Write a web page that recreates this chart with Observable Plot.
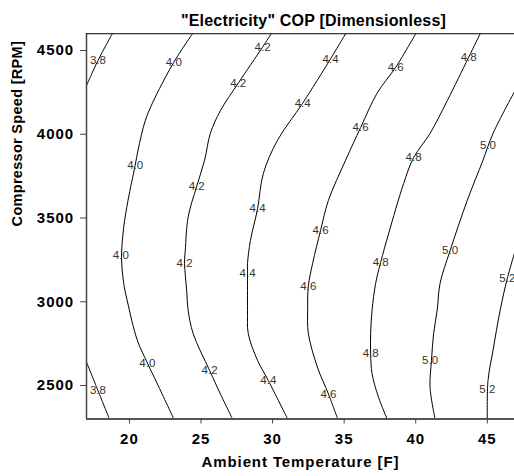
<!DOCTYPE html>
<html>
<head>
<meta charset="utf-8">
<script src="https://cdn.jsdelivr.net/npm/d3@7"></script>
<script src="https://cdn.jsdelivr.net/npm/@observablehq/plot@0.6"></script>
<style>
  body { margin: 0; background: #fff; font-family: "Liberation Sans", Arial, sans-serif; }
  #title { box-sizing: border-box; width: 514px; height: 29px; padding-top: 13px; padding-left: 113px;
           text-align: center; font-weight: bold; font-size: 16px; line-height: 16px; letter-spacing: 0.2px; color: #000; }
  g[aria-label="x-axis tick label"] text, g[aria-label="y-axis tick label"] text { letter-spacing: 1px; }
  .xl { letter-spacing: 0.9px; }
  .yl { letter-spacing: 0.3px; }
</style>
</head>
<body>
<div id="title">"Electricity" COP [Dimensionless]</div>
<div id="chart"></div>
<script>
// Contour lines: [Ambient Temperature (F), Compressor Speed (RPM)]
const c38a = [[18.8,4600],[17.8,4440],[17.0,4290]];
const c38b = [[17.0,2640],[17.8,2470],[18.6,2300]];
const c40 = [[24.4,4600],[23.1,4430],[21.6,4185],[21.1,4080],[20.6,3905],[20.4,3815],[19.9,3605],[19.6,3445],[19.45,3265],[19.6,3110],[19.85,3005],[20.55,2770],[21.25,2635],[21.95,2510],[23.1,2300]];
const c42 = [[29.9,4600],[29.3,4520],[27.6,4305],[26.35,4140],[25.65,4005],[25.25,3845],[24.7,3690],[24.1,3505],[23.9,3305],[23.85,3230],[24.0,3065],[24.1,2950],[24.45,2810],[25.6,2590],[26.35,2450],[27.2,2300]];
const c44 = [[35.1,4600],[34.05,4450],[32.1,4185],[30.35,3965],[29.35,3765],[28.95,3555],[28.45,3365],[28.25,3230],[28.25,3170],[28.25,2950],[28.3,2810],[28.95,2650],[29.7,2530],[31.05,2300]];
const c46 = [[40.0,4600],[38.6,4400],[37.3,4245],[36.15,4040],[35.1,3845],[33.9,3605],[33.35,3425],[32.8,3230],[32.5,3095],[32.45,2950],[32.5,2810],[33.15,2605],[33.9,2450],[34.55,2300]];
const c48 = [[44.5,4600],[43.7,4460],[42.2,4200],[41.0,4005],[39.85,3860],[39.15,3705],[38.1,3405],[37.55,3235],[37.2,3110],[36.95,2950],[36.85,2810],[36.85,2690],[36.95,2570],[37.4,2430],[38.0,2300]];
const c50 = [[47.0,4270],[45.4,4005],[44.7,3845],[43.6,3605],[42.4,3305],[41.7,3110],[41.5,2950],[41.25,2810],[41.1,2650],[41.0,2490],[41.35,2300]];
const c52 = [[47.0,3320],[46.4,3140],[45.9,2950],[45.4,2710],[45.05,2530],[45.0,2300]];

const contourLines = [c38a, c38b, c40, c42, c44, c46, c48, c50, c52];

// Contour labels
const labelText = ["3.8","3.8","4.0","4.0","4.0","4.0","4.2","4.2","4.2","4.2","4.2",
                   "4.4","4.4","4.4","4.4","4.4","4.6","4.6","4.6","4.6","4.6",
                   "4.8","4.8","4.8","4.8","5.0","5.0","5.0","5.2","5.2"];
const labelX = [17.8,17.8,23.1,20.4,19.4,21.25,29.3,27.6,24.7,23.85,25.6,
                34.05,32.1,28.95,28.25,29.7,38.6,36.15,33.35,32.5,33.9,
                43.7,39.85,37.55,36.85,45.05,42.4,41.0,46.4,45.0];
const labelY = [4440,2470,4430,3815,3275,2635,4520,4305,3690,3230,2590,
                4450,4185,3555,3170,2530,4400,4040,3425,3095,2450,
                4460,3860,3235,2690,3935,3305,2650,3140,2480];

const xTicks = [20, 25, 30, 35, 40, 45];
const yTicks = [2500, 3000, 3500, 4000, 4500];
const xLabel = "Ambient Temperature [F]";
const yLabel = "Compressor Speed [RPM]";

const lineRows = contourLines.flatMap((pts, i) => pts.map(([x, y]) => ({id: i, x, y})));
const labelRows = labelText.map((t, i) => ({t, x: labelX[i], y: labelY[i]}));

const chart = Plot.plot({
  width: 514,
  height: 447,
  marginLeft: 86,
  marginRight: 0,
  marginTop: 4.25,
  marginBottom: 57.5,
  x: {domain: [17, 46.9]},
  y: {domain: [2300, 4600]},
  style: {fontFamily: '"Liberation Sans", Arial, sans-serif', background: "white", color: "black", overflow: "visible"},
  marks: [
    Plot.line(lineRows, {x: "x", y: "y", z: "id", stroke: "black", strokeWidth: 1, curve: "catmull-rom", clip: true}),
    Plot.text(labelRows, {x: "x", y: "y", text: "t", fontSize: 11.5, fill: "#333"}),
    Plot.ruleX([17], {stroke: "#444", strokeWidth: 1.5}),
    Plot.ruleY([2300], {stroke: "#555", strokeWidth: 2}),
    Plot.ruleY([4600], {stroke: "black", strokeWidth: 1.2}),
    Plot.axisX({ticks: xTicks, tickFormat: d => String(d), tickSize: 5, tickPadding: 9.8, fontSize: 15, fontWeight: "bold", label: null, stroke: "#444"}),
    Plot.axisY({ticks: yTicks, tickFormat: d => String(d), tickSize: 6, tickPadding: 6.3, fontSize: 15, fontWeight: "bold", label: null, stroke: "#444"}),
    Plot.text([xLabel], {frameAnchor: "bottom", dy: 47.8, fontSize: 15, fontWeight: "bold", className: "xl"}),
    Plot.text([yLabel], {frameAnchor: "left", dx: -69.5, rotate: -90, fontSize: 14.5, fontWeight: "bold", className: "yl"})
  ]
});
document.getElementById("chart").appendChild(chart);
</script>
</body>
</html>
